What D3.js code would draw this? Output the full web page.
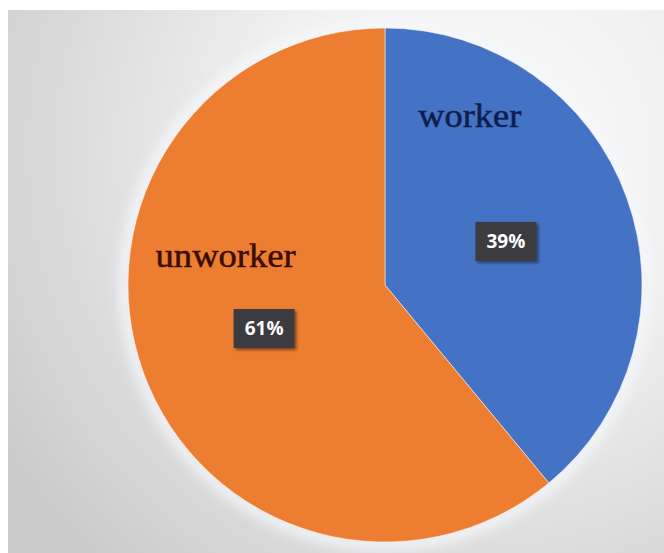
<!DOCTYPE html>
<html>
<head>
<meta charset="utf-8">
<script src="https://cdn.jsdelivr.net/npm/d3@7"></script>
<style>
  html, body { margin: 0; padding: 0; background: #fff; }
  svg { display: block; }
</style>
</head>
<body>
<div id="chart"></div>
<script>
const categories = ["worker", "unworker"];
const values = [39, 61];
const percentLabels = ["39%", "61%"];

const width = 664;
const height = 553;
const cx = 385, cy = 285, radius = 257;

const svg = d3.select("#chart")
  .append("svg")
  .attr("width", width)
  .attr("height", height)
  .attr("viewBox", [0, 0, width, height]);

const defs = svg.append("defs");

const bg = defs.append("radialGradient")
  .attr("id", "bg")
  .attr("gradientUnits", "userSpaceOnUse")
  .attr("cx", 480).attr("cy", 150).attr("r", 560);
bg.append("stop").attr("offset", 0).attr("stop-color", "#fbfbfb");
bg.append("stop").attr("offset", 0.4).attr("stop-color", "#f0f0f0");
bg.append("stop").attr("offset", 0.6).attr("stop-color", "#e4e4e4");
bg.append("stop").attr("offset", 1).attr("stop-color", "#cbcbcb");

defs.append("filter")
    .attr("id", "halo")
    .attr("x", "-20%").attr("y", "-20%").attr("width", "140%").attr("height", "140%")
  .append("feGaussianBlur")
    .attr("stdDeviation", 6);

const shadow = defs.append("filter")
  .attr("id", "shadow")
  .attr("x", "-30%").attr("y", "-30%").attr("width", "160%").attr("height", "160%");
shadow.append("feDropShadow")
  .attr("dx", 2).attr("dy", 2)
  .attr("stdDeviation", 1.5)
  .attr("flood-color", "#000")
  .attr("flood-opacity", 0.45);

// background panel (white strip top and left as in the screenshot)
svg.append("rect")
  .attr("x", 8).attr("y", 10)
  .attr("width", width - 8).attr("height", height - 10)
  .attr("fill", "url(#bg)");

const color = d3.scaleOrdinal()
  .domain(categories)
  .range(["#4472c4", "#ed7d31"]);

const pie = d3.pie()
  .sort(null)
  .value(d => d.value);

const arcs = pie(categories.map((c, i) => ({ name: c, value: values[i], pct: percentLabels[i] })));

const arc = d3.arc().innerRadius(0).outerRadius(radius);
const labelArc = d3.arc().innerRadius(radius * 0.5).outerRadius(radius * 0.5);

const g = svg.append("g")
    .attr("transform", `translate(${cx},${cy})`);

// soft light halo round the pie
g.append("circle")
    .attr("r", radius + 3)
    .attr("fill", "none")
    .attr("stroke", "#f4f7fb")
    .attr("stroke-width", 10)
    .attr("filter", "url(#halo)");

g.selectAll("path")
  .data(arcs)
  .join("path")
    .attr("d", arc)
    .attr("fill", d => color(d.data.name))
    .attr("stroke", "#ffffff")
    .attr("stroke-opacity", 0.5)
    .attr("stroke-width", 1);

// category names, placed inside each slice
const namePos = {
  worker: { t: 0.19, r: 0.735, fill: "#0f1d4d", len: 103 },
  unworker: { t: 0.636, r: 0.63, fill: "#3b0d02", len: 140 }
};

g.selectAll("text.name")
  .data(arcs)
  .join("text")
    .attr("class", "name")
    .each(function(d) {
      const p = namePos[d.data.name];
      const a = d.startAngle + (d.endAngle - d.startAngle) * p.t;
      d3.select(this)
        .attr("x", Math.sin(a) * radius * p.r)
        .attr("y", -Math.cos(a) * radius * p.r)
        .attr("fill", p.fill)
        .attr("stroke", p.fill)
        .attr("textLength", p.len);
    })
    .attr("stroke-width", 0.5)
    .attr("text-anchor", "middle")
    .attr("dy", "0.32em")
    .attr("lengthAdjust", "spacingAndGlyphs")
    .attr("font-family", "'Liberation Serif', 'Times New Roman', serif")
    .attr("font-size", 33)
    .text(d => d.data.name);

// percentage data labels
const boxW = 61, boxH = 39;
const lab = g.selectAll("g.lab")
  .data(arcs)
  .join("g")
    .attr("class", "lab")
    .attr("transform", d => `translate(${labelArc.centroid(d)})`);

lab.append("rect")
    .attr("x", -boxW / 2)
    .attr("y", -boxH / 2)
    .attr("width", boxW)
    .attr("height", boxH)
    .attr("fill", "#3a3b3f")
    .attr("filter", "url(#shadow)");

lab.append("text")
    .attr("text-anchor", "middle")
    .attr("dy", "0.36em")
    .attr("fill", "#ffffff")
    .attr("font-family", "'Open Sans', 'DejaVu Sans', sans-serif")
    .attr("font-weight", 700)
    .attr("font-size", 19)
    .text(d => d.data.pct);
</script>
</body>
</html>
